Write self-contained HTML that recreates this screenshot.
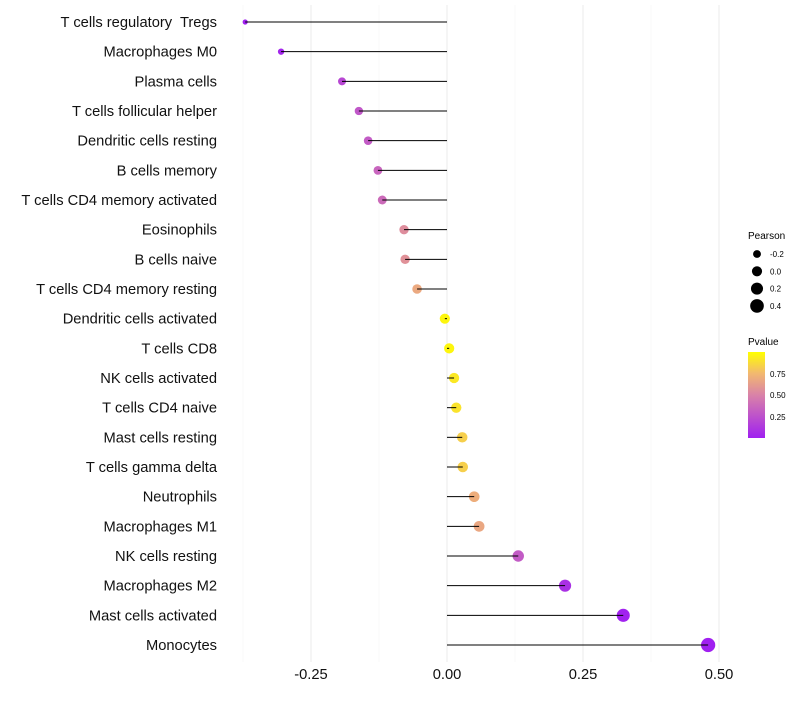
<!DOCTYPE html>
<html><head><meta charset="utf-8"><style>body{margin:0;background:#fff}svg{font-family:"Liberation Sans",sans-serif}</style></head>
<body>
<svg id="chart" width="800" height="700" xmlns="http://www.w3.org/2000/svg">
<g id="grid"></g>
<g id="marks"></g>
<g id="ylabels"></g>
<g id="xlabels"></g>
<g id="sizeleg">
<text x="748" y="239" font-size="10">Pearson</text>
</g>
<g>
<defs><linearGradient id="pg" x1="0" y1="1" x2="0" y2="0">
<stop offset="0" stop-color="#a020f0"/><stop offset="0.5" stop-color="#d982a8"/><stop offset="0.75" stop-color="#f2b870"/><stop offset="1" stop-color="#ffff00"/></linearGradient></defs>
<text x="748" y="345" font-size="10">Pvalue</text>
<rect x="748" y="352" width="17" height="86" fill="url(#pg)"/>
<text x="770" y="377" font-size="8">0.75</text>
<text x="770" y="398" font-size="8">0.50</text>
<text x="770" y="420" font-size="8">0.25</text>
</g>
</svg>
<script>
const categories=["T cells regulatory  Tregs","Macrophages M0","Plasma cells","T cells follicular helper","Dendritic cells resting","B cells memory","T cells CD4 memory activated","Eosinophils","B cells naive","T cells CD4 memory resting","Dendritic cells activated","T cells CD8","NK cells activated","T cells CD4 naive","Mast cells resting","T cells gamma delta","Neutrophils","Macrophages M1","NK cells resting","Macrophages M2","Mast cells activated","Monocytes"];
const pearson=[-0.371,-0.305,-0.193,-0.162,-0.145,-0.127,-0.119,-0.079,-0.077,-0.055,-0.004,0.004,0.013,0.017,0.028,0.029,0.050,0.059,0.131,0.217,0.324,0.480];
const pvalue=[0.0,0.03,0.2,0.28,0.3,0.35,0.38,0.55,0.57,0.68,0.97,0.97,0.92,0.9,0.83,0.83,0.7,0.67,0.3,0.08,0.01,0.0];
const xTicks=[-0.25,0,0.25,0.5];
const xTickLabels=["-0.25","0.00","0.25","0.50"];
const sizeLegend=[-0.2,0.0,0.2,0.4];
const sizeLegendLabels=["-0.2","0.0","0.2","0.4"];
const NS="http://www.w3.org/2000/svg";
const X=v=>447+v*544;
const Y=i=>22+i*(623/21);
const R=v=>Math.sqrt(Math.max(2.2,16+52*(v+0.19)));
function mk(t,a,p){const e=document.createElementNS(NS,t);for(const k in a)e.setAttribute(k,a[k]);p.appendChild(e);return e;}
function lerp(a,b,t){return a.map((v,i)=>Math.round(v+(b[i]-v)*t));}
function col(p){const s=[[0,[160,32,240]],[0.5,[217,130,168]],[0.75,[242,184,112]],[1,[255,255,0]]];
for(let i=1;i<s.length;i++){if(p<=s[i][0]){const c=lerp(s[i-1][1],s[i][1],(p-s[i-1][0])/(s[i][0]-s[i-1][0]));return `rgb(${c})`;}}return "rgb(255,255,0)";}
const grid=document.getElementById('grid');
[-0.375,-0.125,0.125,0.375].forEach(v=>{const l=mk('line',{x1:X(v),x2:X(v),y1:5,y2:662,stroke:'#f5f5f5','stroke-width':0.6},grid);
});
xTicks.forEach(v=>{const l=mk('line',{x1:X(v),x2:X(v),y1:5,y2:662,stroke:'#ebebeb','stroke-width':1},grid);
});
const marks=document.getElementById('marks');
categories.forEach((c,i)=>{
const d=mk('circle',{cx:X(pearson[i]),cy:Y(i),r:R(pearson[i]),fill:col(pvalue[i])},marks);

const s=mk('line',{x1:X(0),x2:X(pearson[i]),y1:Y(i),y2:Y(i),stroke:'#000','stroke-width':1},marks);

const t=mk('text',{x:217,y:Y(i)+5,'text-anchor':'end','font-size':14.7,fill:'#111',style:'white-space:pre'},document.getElementById('ylabels'));
t.textContent=c;
});
xTicks.forEach((v,i)=>{const t=mk('text',{x:X(v),y:679,'text-anchor':'middle','font-size':14.7,fill:'#111'},document.getElementById('xlabels'));
t.textContent=xTickLabels[i];});
const sl=document.getElementById('sizeleg');
sizeLegend.forEach((v,i)=>{const y=254+i*17.3;
const c=mk('circle',{cx:757,cy:y,r:R(v),fill:'#000'},sl);
const t=mk('text',{x:770,y:y+3,'font-size':8},sl);t.textContent=sizeLegendLabels[i];});
</script>
</body></html>
